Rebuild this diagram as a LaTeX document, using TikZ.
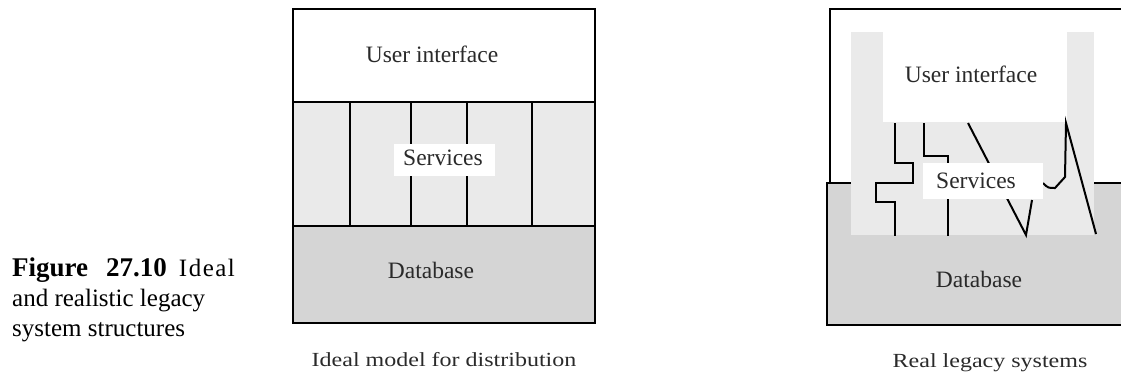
\documentclass[tikz,border=0pt]{standalone}
\usepackage{fontspec}
\setmainfont{Liberation Serif}
\newfontfamily\capfont[FakeStretch=1.2]{Liberation Serif}

\definecolor{svcgray}{HTML}{EAEAEA}
\definecolor{dbgray}{HTML}{D5D5D5}
\definecolor{inkgray}{HTML}{2A2A2A}

\begin{document}
\begin{tikzpicture}[x=1pt,y=-1pt,
  frame/.style={line width=2pt, line join=miter},
  wire/.style={line width=2pt, line join=miter},
  lbl/.style={anchor=base, inner sep=0pt, text=inkgray, font=\fontsize{23.5}{28}\selectfont},
  sublbl/.style={anchor=base, inner sep=0pt, text=inkgray, font=\capfont\fontsize{20}{24}\selectfont},
  figcap/.style={anchor=base west, inner sep=0pt, font=\fontsize{25}{30}\selectfont}]

\useasboundingbox (0,0) rectangle (1121,375);
\clip (0,0) rectangle (1121,375);

% ---------- figure caption ----------
\node[figcap] (capA) at (12,276) {{\fontsize{27}{30}\selectfont\bfseries Figure\hspace{18pt}27.10}\hspace{12pt}I\hspace{1.5pt}d\hspace{1.5pt}e\hspace{1.5pt}a\hspace{1.5pt}l};
\node[figcap] (capB) at (12,306) {and realistic legacy};
\node[figcap] (capC) at (12,336) {system structures};

% ---------- ideal model ----------
\fill[white]   (293,9)   rectangle (595,102);
\fill[svcgray] (293,102) rectangle (595,226);
\fill[dbgray]  (293,226) rectangle (595,323);
\foreach \x in {350,411,467,532}
  \draw[wire] (\x,102) -- (\x,226);
\fill[white] (394,144) rectangle (495,176);
\draw[frame] (293,102) -- (595,102);
\draw[frame] (293,226) -- (595,226);
\draw[frame] (293,9) rectangle (595,323);

\node[lbl] (uiA)  at (432,62)  {User interface};
\node[lbl] (svA)  at (443,165) {Services};
\node[lbl] (dbA)  at (431,278) {Database};
\node[sublbl] (titleA) at (444,366) {Ideal model for distribution};

% ---------- real legacy systems ----------
\fill[dbgray] (827,183) rectangle (1130,325);
\draw[frame] (1130,183) -- (827,183) -- (827,325) -- (1130,325);
\draw[frame] (830,183) -- (830,9) -- (1130,9);
\fill[svcgray] (851,32) rectangle (1094,235);
\fill[white]   (883,32) rectangle (1067,122);

\draw[wire] (895,123) -- (895,163) -- (913,163) -- (913,183) -- (876,183)
            -- (876,202) -- (895,202) -- (895,236);
\draw[wire] (924,123) -- (924,156) -- (948,156) -- (948,236);
\draw[wire] (968,123) -- (1026,235) -- (1032,200);
\draw[wire] (1043,183) .. controls (1048,188) .. (1055,188) -- (1065,177)
            -- (1066,123) -- (1096,234);

\fill[white] (923,163) rectangle (1043,199);

\node[lbl] (uiB) at (971,82)  {User interface};
\node[lbl] (svB) at (976,188) {Services};
\node[lbl] (dbB) at (979,287) {Database};
\node[sublbl] (titleB) at (990,367) {Real legacy systems};

\end{tikzpicture}
\end{document}
